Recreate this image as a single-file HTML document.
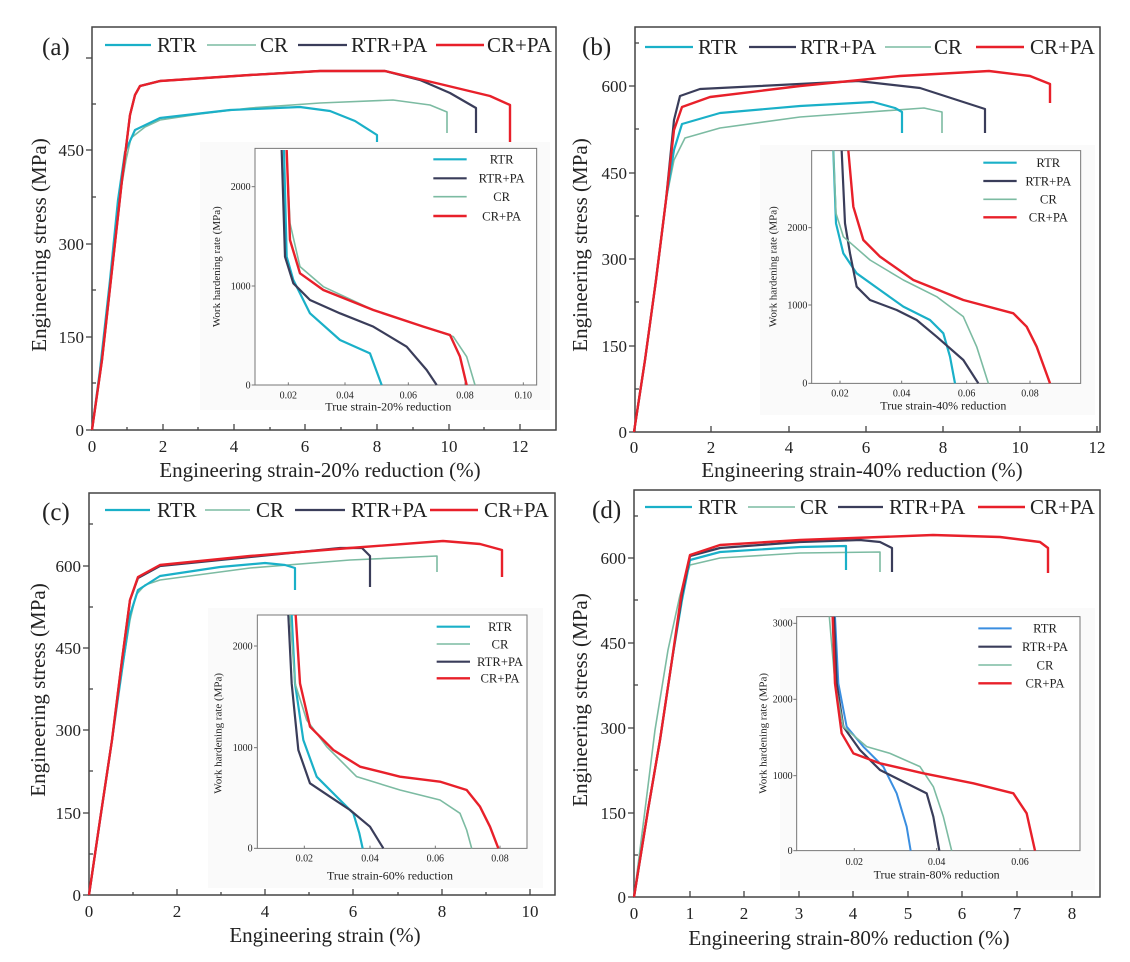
<!DOCTYPE html>
<html><head><meta charset="utf-8"><style>
html,body{margin:0;padding:0;background:#fff}
svg{display:block}
text{font-family:"Liberation Serif",serif;fill:#222}
.ax{fill:none;stroke:#444;stroke-width:1.5}
.tk{stroke:#444;stroke-width:1.3}
.c{fill:none;stroke:#1ab0c8;stroke-width:2.2;stroke-linejoin:round}
.g{fill:none;stroke:#7cbba2;stroke-width:1.6;stroke-linejoin:round}
.d{fill:none;stroke:#3a3d5a;stroke-width:2.2;stroke-linejoin:round}
.r{fill:none;stroke:#e8202a;stroke-width:2.4;stroke-linejoin:round}
.b{fill:none;stroke:#3a8ee0;stroke-width:2;stroke-linejoin:round}
.s path,.s polyline,.s line,.s rect{vector-effect:non-scaling-stroke}
.lg{font-size:21px}
.tl{font-size:17px}
.ttl{font-size:21px}
</style></head><body>
<svg width="1130" height="962" viewBox="0 0 1130 962" xmlns="http://www.w3.org/2000/svg">

<!-- ===== Panel (a) ===== -->
<rect x="92" y="27" width="464" height="403" class="ax"/>
<g class="tk">
<line x1="86" y1="430" x2="92" y2="430"/><line x1="86" y1="337" x2="92" y2="337"/><line x1="86" y1="244" x2="92" y2="244"/><line x1="86" y1="150" x2="92" y2="150"/><line x1="86" y1="58" x2="92" y2="58"/>
<line x1="92" y1="383" x2="96" y2="383"/><line x1="92" y1="290" x2="96" y2="290"/><line x1="92" y1="197" x2="96" y2="197"/><line x1="92" y1="104" x2="96" y2="104"/>
<line x1="163" y1="430" x2="163" y2="424"/><line x1="234" y1="430" x2="234" y2="424"/><line x1="305" y1="430" x2="305" y2="424"/><line x1="377" y1="430" x2="377" y2="424"/><line x1="449" y1="430" x2="449" y2="424"/><line x1="520" y1="430" x2="520" y2="424"/>
<line x1="127" y1="430" x2="127" y2="427"/><line x1="198" y1="430" x2="198" y2="427"/><line x1="270" y1="430" x2="270" y2="427"/><line x1="341" y1="430" x2="341" y2="427"/><line x1="413" y1="430" x2="413" y2="427"/><line x1="484" y1="430" x2="484" y2="427"/>
</g>
<g class="tl" text-anchor="end"><text x="84" y="436">0</text><text x="84" y="343">150</text><text x="84" y="250">300</text><text x="84" y="156">450</text></g>
<g class="tl" text-anchor="middle"><text x="92" y="452">0</text><text x="163" y="452">2</text><text x="234" y="452">4</text><text x="305" y="452">6</text><text x="377" y="452">8</text><text x="449" y="452">10</text><text x="520" y="452">12</text></g>
<text class="ttl" x="320" y="477" text-anchor="middle">Engineering strain-20% reduction (%)</text>
<text class="ttl" transform="translate(46,245) rotate(-90)" text-anchor="middle">Engineering stress (MPa)</text>
<text x="42" y="55" font-size="25">(a)</text>
<g class="lg"><line x1="105" y1="45" x2="151" y2="45" class="c"/><text x="157" y="52">RTR</text>
<line x1="207" y1="45" x2="256" y2="45" class="g"/><text x="260" y="52">CR</text>
<line x1="298" y1="45" x2="347" y2="45" class="d"/><text x="351" y="52">RTR+PA</text>
<line x1="436" y1="45" x2="484" y2="45" class="r"/><text x="487" y="52">CR+PA</text></g>
<polyline class="g" points="92,430 100,370 110,280 120,195 126,160 131,138 145,127 160,120 200,114 250,108 320,103 393,100 430,105 447,112 447,133"/>
<polyline class="c" points="92,430 100,370 110,280 118,200 125,152 135,130 160,118 230,110 300,107 330,111 355,121 377,135 377,145"/>
<polyline class="d" points="92,430 102,360 112,270 122,180 130,115 135,95 140,86 160,81 250,75 320,71 385,71 420,80 450,93 476,108 476,133"/>
<polyline class="r" points="92,430 102,360 112,270 122,180 130,115 135,95 140,86 160,81 250,75 320,71 385,71 440,84 490,96 510,105 510,144"/>
<!-- inset a -->
<rect x="200" y="142" width="350" height="268" fill="#fafafa"/>
<g class="s" transform="translate(190,140) scale(0.33333)">
<rect x="195" y="25" width="845" height="710" fill="#fff" stroke="#777" stroke-width="1"/>
<g stroke="#777" stroke-width="1"><line x1="185" y1="735" x2="195" y2="735"/><line x1="185" y1="438" x2="195" y2="438"/><line x1="185" y1="140" x2="195" y2="140"/>
<line x1="295" y1="735" x2="295" y2="727"/><line x1="465" y1="735" x2="465" y2="727"/><line x1="655" y1="735" x2="655" y2="727"/><line x1="825" y1="735" x2="825" y2="727"/><line x1="1000" y1="735" x2="1000" y2="727"/></g>
<g font-size="30" text-anchor="end"><text x="182" y="745">0</text><text x="182" y="448">1000</text><text x="182" y="150">2000</text></g>
<g font-size="30" text-anchor="middle"><text x="295" y="775">0.02</text><text x="465" y="775">0.04</text><text x="655" y="775">0.06</text><text x="825" y="775">0.08</text><text x="1000" y="775">0.10</text></g>
<text x="595" y="812" font-size="36" text-anchor="middle">True strain-20% reduction</text>
<text transform="translate(90,380) rotate(-90)" font-size="33" text-anchor="middle">Work hardening rate (MPa)</text>
<polyline class="c" points="282,30 290,350 310,420 360,520 450,600 540,640 575,735"/>
<polyline class="d" points="275,30 285,350 310,430 360,480 450,520 550,560 650,620 710,690 740,735"/>
<polyline class="g" points="290,30 300,250 330,380 400,440 550,510 700,560 790,590 830,650 855,735"/>
<polyline class="r" points="290,30 300,300 330,400 400,450 550,510 700,560 780,585 810,650 830,735"/>
<line x1="730" y1="58" x2="830" y2="58" class="c"/><line x1="730" y1="115" x2="830" y2="115" class="d"/><line x1="730" y1="170" x2="830" y2="170" class="g"/><line x1="730" y1="228" x2="830" y2="228" class="r"/>
<g font-size="38" text-anchor="middle"><text x="935" y="71">RTR</text><text x="935" y="128">RTR+PA</text><text x="935" y="183">CR</text><text x="935" y="241">CR+PA</text></g>
</g>

<!-- ===== Panel (b) ===== -->
<rect x="635" y="27" width="465" height="405" class="ax"/>
<g class="tk">
<line x1="629" y1="432" x2="635" y2="432"/><line x1="629" y1="346" x2="635" y2="346"/><line x1="629" y1="259" x2="635" y2="259"/><line x1="629" y1="173" x2="635" y2="173"/><line x1="629" y1="86" x2="635" y2="86"/>
<line x1="635" y1="389" x2="639" y2="389"/><line x1="635" y1="302" x2="639" y2="302"/><line x1="635" y1="216" x2="639" y2="216"/><line x1="635" y1="129" x2="639" y2="129"/><line x1="635" y1="43" x2="639" y2="43"/>
<line x1="711" y1="432" x2="711" y2="426"/><line x1="789" y1="432" x2="789" y2="426"/><line x1="866" y1="432" x2="866" y2="426"/><line x1="943" y1="432" x2="943" y2="426"/><line x1="1020" y1="432" x2="1020" y2="426"/><line x1="1097" y1="432" x2="1097" y2="426"/>
</g>
<g class="tl" text-anchor="end"><text x="627" y="438">0</text><text x="627" y="352">150</text><text x="627" y="265">300</text><text x="627" y="179">450</text><text x="627" y="92">600</text></g>
<g class="tl" text-anchor="middle"><text x="634" y="453">0</text><text x="711" y="453">2</text><text x="789" y="453">4</text><text x="866" y="453">6</text><text x="943" y="453">8</text><text x="1020" y="453">10</text><text x="1097" y="453">12</text></g>
<text class="ttl" x="862" y="477" text-anchor="middle">Engineering strain-40% reduction (%)</text>
<text class="ttl" transform="translate(587,245) rotate(-90)" text-anchor="middle">Engineering stress (MPa)</text>
<text x="582" y="55" font-size="25">(b)</text>
<g class="lg"><line x1="645" y1="47" x2="693" y2="47" class="c"/><text x="698" y="54">RTR</text>
<line x1="749" y1="47" x2="796" y2="47" class="d"/><text x="800" y="54">RTR+PA</text>
<line x1="885" y1="47" x2="931" y2="47" class="g"/><text x="934" y="54">CR</text>
<line x1="976" y1="47" x2="1024" y2="47" class="r"/><text x="1030" y="54">CR+PA</text></g>
<polyline class="g" points="634,432 645,360 656,280 666,200 674,160 685,138 720,128 800,117 924,108 942,112 942,133"/>
<polyline class="c" points="634,432 645,360 656,280 666,200 674,150 682,124 720,113 800,106 873,102 895,108 902,112 902,133"/>
<polyline class="d" points="634,432 645,360 656,280 666,200 674,120 680,96 700,89 760,86 858,81 920,88 985,109 985,133"/>
<polyline class="r" points="634,432 645,360 656,280 666,200 674,130 682,107 710,97 800,86 900,76 989,71 1030,76 1050,84 1050,103"/>
<!-- inset b -->
<rect x="760" y="145" width="335" height="270" fill="#fafafa"/>
<g class="s" transform="translate(730,140) scale(0.33333)">
<rect x="245" y="32" width="807" height="698" fill="#fff" stroke="#777" stroke-width="1"/>
<g stroke="#777" stroke-width="1"><line x1="235" y1="730" x2="245" y2="730"/><line x1="235" y1="495" x2="245" y2="495"/><line x1="235" y1="263" x2="245" y2="263"/>
<line x1="330" y1="730" x2="330" y2="722"/><line x1="515" y1="730" x2="515" y2="722"/><line x1="710" y1="730" x2="710" y2="722"/><line x1="900" y1="730" x2="900" y2="722"/></g>
<g font-size="30" text-anchor="end"><text x="232" y="740">0</text><text x="232" y="505">1000</text><text x="232" y="273">2000</text></g>
<g font-size="30" text-anchor="middle"><text x="330" y="770">0.02</text><text x="515" y="770">0.04</text><text x="710" y="770">0.06</text><text x="900" y="770">0.08</text></g>
<text x="640" y="808" font-size="36" text-anchor="middle">True strain-40% reduction</text>
<text transform="translate(140,380) rotate(-90)" font-size="33" text-anchor="middle">Work hardening rate (MPa)</text>
<polyline class="c" points="310,32 318,250 340,340 380,400 450,450 520,500 600,540 640,580 660,650 675,730"/>
<polyline class="d" points="335,32 345,250 360,340 380,440 420,480 500,510 560,540 620,590 700,660 745,730"/>
<polyline class="g" points="310,32 318,220 340,290 420,360 520,420 620,470 700,530 740,620 775,730"/>
<polyline class="r" points="355,32 370,200 400,300 450,350 550,420 700,480 850,520 890,560 920,620 960,730"/>
<line x1="760" y1="68" x2="860" y2="68" class="c"/><line x1="760" y1="123" x2="860" y2="123" class="d"/><line x1="760" y1="178" x2="860" y2="178" class="g"/><line x1="760" y1="232" x2="860" y2="232" class="r"/>
<g font-size="38" text-anchor="middle"><text x="955" y="81">RTR</text><text x="955" y="136">RTR+PA</text><text x="955" y="191">CR</text><text x="955" y="245">CR+PA</text></g>
</g>

<!-- ===== Panel (c) ===== -->
<rect x="89" y="493" width="466" height="402" class="ax"/>
<g class="tk">
<line x1="83" y1="895" x2="89" y2="895"/><line x1="83" y1="813" x2="89" y2="813"/><line x1="83" y1="730" x2="89" y2="730"/><line x1="83" y1="648" x2="89" y2="648"/><line x1="83" y1="566" x2="89" y2="566"/>
<line x1="89" y1="854" x2="93" y2="854"/><line x1="89" y1="771" x2="93" y2="771"/><line x1="89" y1="689" x2="93" y2="689"/><line x1="89" y1="607" x2="93" y2="607"/><line x1="89" y1="524" x2="93" y2="524"/>
<line x1="177" y1="895" x2="177" y2="889"/><line x1="265" y1="895" x2="265" y2="889"/><line x1="353" y1="895" x2="353" y2="889"/><line x1="442" y1="895" x2="442" y2="889"/><line x1="530" y1="895" x2="530" y2="889"/>
<line x1="133" y1="895" x2="133" y2="892"/><line x1="221" y1="895" x2="221" y2="892"/><line x1="309" y1="895" x2="309" y2="892"/><line x1="398" y1="895" x2="398" y2="892"/><line x1="486" y1="895" x2="486" y2="892"/>
</g>
<g class="tl" text-anchor="end"><text x="81" y="901">0</text><text x="81" y="819">150</text><text x="81" y="736">300</text><text x="81" y="654">450</text><text x="81" y="572">600</text></g>
<g class="tl" text-anchor="middle"><text x="89" y="917">0</text><text x="177" y="917">2</text><text x="265" y="917">4</text><text x="353" y="917">6</text><text x="442" y="917">8</text><text x="530" y="917">10</text></g>
<text class="ttl" x="325" y="942" text-anchor="middle">Engineering strain (%)</text>
<text class="ttl" transform="translate(45,690) rotate(-90)" text-anchor="middle">Engineering stress (MPa)</text>
<text x="42" y="520" font-size="25">(c)</text>
<g class="lg"><line x1="105" y1="510" x2="150" y2="510" class="c"/><text x="157" y="517">RTR</text>
<line x1="205" y1="510" x2="250" y2="510" class="g"/><text x="256" y="517">CR</text>
<line x1="295" y1="510" x2="345" y2="510" class="d"/><text x="351" y="517">RTR+PA</text>
<line x1="430" y1="510" x2="478" y2="510" class="r"/><text x="484" y="517">CR+PA</text></g>
<polyline class="g" points="89,895 100,820 112,740 122,670 130,620 136,595 145,585 160,580 250,568 350,560 437,556 437,572"/>
<polyline class="c" points="89,895 100,820 112,740 122,670 130,615 138,590 160,576 220,567 265,563 285,565 295,568 295,590"/>
<polyline class="d" points="89,895 100,820 112,740 122,660 130,600 138,578 160,566 250,557 340,548 362,548 370,556 370,587"/>
<polyline class="r" points="89,895 100,820 112,740 122,660 130,600 138,577 160,565 250,556 350,548 443,541 480,544 502,550 502,577"/>
<!-- inset c -->
<rect x="208" y="608" width="335" height="280" fill="#fafafa"/>
<g class="s" transform="translate(200,600) scale(0.33333)">
<rect x="172" y="45" width="809" height="700" fill="#fff" stroke="#777" stroke-width="1"/>
<g stroke="#777" stroke-width="1"><line x1="162" y1="745" x2="172" y2="745"/><line x1="162" y1="443" x2="172" y2="443"/><line x1="162" y1="138" x2="172" y2="138"/>
<line x1="313" y1="745" x2="313" y2="737"/><line x1="510" y1="745" x2="510" y2="737"/><line x1="706" y1="745" x2="706" y2="737"/><line x1="900" y1="745" x2="900" y2="737"/></g>
<g font-size="30" text-anchor="end"><text x="158" y="755">0</text><text x="158" y="453">1000</text><text x="158" y="148">2000</text></g>
<g font-size="30" text-anchor="middle"><text x="313" y="785">0.02</text><text x="510" y="785">0.04</text><text x="706" y="785">0.06</text><text x="900" y="785">0.08</text></g>
<text x="570" y="838" font-size="36" text-anchor="middle">True strain-60% reduction</text>
<text transform="translate(65,400) rotate(-90)" font-size="33" text-anchor="middle">Work hardening rate (MPa)</text>
<polyline class="c" points="275,45 285,250 310,420 350,530 420,600 460,640 478,700 488,745"/>
<polyline class="d" points="265,45 275,250 295,450 330,550 390,590 450,630 510,680 550,745"/>
<polyline class="g" points="270,45 285,250 320,360 380,440 470,530 600,570 720,600 780,640 800,690 815,745"/>
<polyline class="r" points="287,45 300,250 330,380 400,450 480,500 600,530 720,545 800,570 840,620 870,680 895,745"/>
<line x1="710" y1="80" x2="810" y2="80" class="c"/><line x1="710" y1="132" x2="810" y2="132" class="g"/><line x1="710" y1="185" x2="810" y2="185" class="d"/><line x1="710" y1="235" x2="810" y2="235" class="r"/>
<g font-size="38" text-anchor="middle"><text x="900" y="93">RTR</text><text x="900" y="145">CR</text><text x="900" y="198">RTR+PA</text><text x="900" y="248">CR+PA</text></g>
</g>

<!-- ===== Panel (d) ===== -->
<rect x="634" y="490" width="466" height="407" class="ax"/>
<g class="tk">
<line x1="628" y1="897" x2="634" y2="897"/><line x1="628" y1="813" x2="634" y2="813"/><line x1="628" y1="728" x2="634" y2="728"/><line x1="628" y1="643" x2="634" y2="643"/><line x1="628" y1="558" x2="634" y2="558"/>
<line x1="634" y1="855" x2="638" y2="855"/><line x1="634" y1="770" x2="638" y2="770"/><line x1="634" y1="685" x2="638" y2="685"/><line x1="634" y1="600" x2="638" y2="600"/><line x1="634" y1="516" x2="638" y2="516"/>
<line x1="690" y1="897" x2="690" y2="891"/><line x1="744" y1="897" x2="744" y2="891"/><line x1="799" y1="897" x2="799" y2="891"/><line x1="853" y1="897" x2="853" y2="891"/><line x1="908" y1="897" x2="908" y2="891"/><line x1="962" y1="897" x2="962" y2="891"/><line x1="1017" y1="897" x2="1017" y2="891"/><line x1="1072" y1="897" x2="1072" y2="891"/>
</g>
<g class="tl" text-anchor="end"><text x="626" y="903">0</text><text x="626" y="819">150</text><text x="626" y="734">300</text><text x="626" y="649">450</text><text x="626" y="564">600</text></g>
<g class="tl" text-anchor="middle"><text x="634" y="919">0</text><text x="690" y="919">1</text><text x="744" y="919">2</text><text x="799" y="919">3</text><text x="853" y="919">4</text><text x="908" y="919">5</text><text x="962" y="919">6</text><text x="1017" y="919">7</text><text x="1072" y="919">8</text></g>
<text class="ttl" x="849" y="945" text-anchor="middle">Engineering strain-80% reduction (%)</text>
<text class="ttl" transform="translate(587,700) rotate(-90)" text-anchor="middle">Engineering stress (MPa)</text>
<text x="592" y="518" font-size="25">(d)</text>
<g class="lg"><line x1="645" y1="507" x2="692" y2="507" class="c"/><text x="698" y="514">RTR</text>
<line x1="748" y1="507" x2="795" y2="507" class="g"/><text x="800" y="514">CR</text>
<line x1="838" y1="507" x2="883" y2="507" class="d"/><text x="889" y="514">RTR+PA</text>
<line x1="978" y1="507" x2="1025" y2="507" class="r"/><text x="1030" y="514">CR+PA</text></g>
<polyline class="g" points="634,897 645,810 655,730 668,650 680,595 690,565 720,558 800,553 880,552 880,572"/>
<polyline class="c" points="634,897 648,810 660,740 672,660 682,600 690,560 720,552 800,547 846,546 846,570"/>
<polyline class="d" points="634,897 648,810 660,740 672,660 682,595 690,556 720,548 800,542 860,540 880,542 892,548 892,572"/>
<polyline class="r" points="634,897 648,810 660,740 672,660 682,590 690,555 720,545 800,540 933,535 1000,537 1040,542 1048,548 1048,573"/>
<!-- inset d -->
<rect x="780" y="608" width="315" height="282" fill="#fafafa"/>
<g class="s" transform="translate(740,600) scale(0.33333)">
<rect x="170" y="50" width="850" height="702" fill="#fff" stroke="#777" stroke-width="1"/>
<g stroke="#777" stroke-width="1"><line x1="160" y1="752" x2="170" y2="752"/><line x1="160" y1="527" x2="170" y2="527"/><line x1="160" y1="298" x2="170" y2="298"/><line x1="160" y1="70" x2="170" y2="70"/>
<line x1="343" y1="752" x2="343" y2="744"/><line x1="590" y1="752" x2="590" y2="744"/><line x1="840" y1="752" x2="840" y2="744"/></g>
<g font-size="30" text-anchor="end"><text x="158" y="762">0</text><text x="158" y="537">1000</text><text x="158" y="308">2000</text><text x="158" y="80">3000</text></g>
<g font-size="30" text-anchor="middle"><text x="343" y="795">0.02</text><text x="590" y="795">0.04</text><text x="840" y="795">0.06</text></g>
<text x="590" y="835" font-size="36" text-anchor="middle">True strain-80% reduction</text>
<text transform="translate(80,400) rotate(-90)" font-size="33" text-anchor="middle">Work hardening rate (MPa)</text>
<polyline class="b" points="285,50 295,250 320,380 370,440 430,500 470,580 500,680 512,752"/>
<polyline class="d" points="282,50 290,250 310,380 360,450 420,510 500,550 560,580 580,650 598,752"/>
<polyline class="g" points="268,50 285,250 310,380 380,440 450,460 540,500 580,560 610,650 635,752"/>
<polyline class="r" points="278,50 285,250 305,400 340,460 420,490 550,520 700,550 820,580 860,640 885,752"/>
<line x1="715" y1="85" x2="815" y2="85" class="b"/><line x1="715" y1="140" x2="815" y2="140" class="d"/><line x1="715" y1="195" x2="815" y2="195" class="g"/><line x1="715" y1="250" x2="815" y2="250" class="r"/>
<g font-size="38" text-anchor="middle"><text x="915" y="98">RTR</text><text x="915" y="153">RTR+PA</text><text x="915" y="208">CR</text><text x="915" y="263">CR+PA</text></g>
</g>
</svg>
</body></html>
